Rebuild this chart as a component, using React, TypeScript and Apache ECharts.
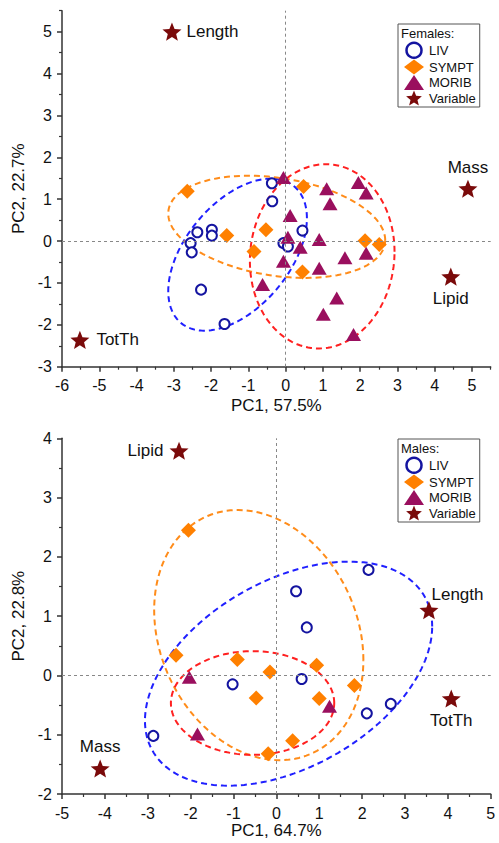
import React, { useEffect, useRef } from 'react';
import * as echarts from 'echarts';

const FONT = '"Liberation Sans", Arial, Helvetica, sans-serif';

// ---------- Top chart: Females ----------
const femTitle = 'Females:';
const femXName = 'PC1, 57.5%';
const femYName = 'PC2, 22.7%';
const femXRange = [-6, 5.5];
const femYRange = [-3, 5.5];
const femXMajor = [-6, -5, -4, -3, -2, -1, 0, 1, 2, 3, 4, 5];
const femXMinor = [-5.5, -4.5, -3.5, -2.5, -1.5, -0.5, 0.5, 1.5, 2.5, 3.5, 4.5, 5.5];
const femYMajor = [-3, -2, -1, 0, 1, 2, 3, 4, 5];
const femYMinor = [-2.5, -1.5, -0.5, 0.5, 1.5, 2.5, 3.5, 4.5, 5.5];

const femLIV = [
  [-0.37, 1.38], [-0.36, 0.95], [-2.37, 0.21], [-1.98, 0.27], [-1.98, 0.13],
  [-2.55, -0.05], [-2.52, -0.27], [-2.27, -1.16], [-1.64, -1.98], [-0.06, -0.05],
  [0.06, -0.13], [0.45, 0.25],
];
const femSYMPT = [
  [-2.64, 1.19], [-1.58, 0.13], [-0.53, 0.27], [-0.85, -0.25], [0.45, -0.74],
  [0.48, 1.3], [2.13, 0.01], [2.51, -0.08],
];
const femMORIB = [
  [-0.06, 1.52], [1.1, 1.25], [1.95, 1.4], [2.16, 1.15], [1.19, 0.89], [0.12, 0.61],
  [0.06, 0.09], [0.39, -0.15], [0.9, 0.04], [-0.06, -0.48], [0.9, -0.65], [1.59, -0.4],
  [2.16, -0.29], [-0.62, -1.04], [1.37, -1.36], [1.01, -1.75], [1.82, -2.23],
];
const femVarNames = ['Length', 'Mass', 'Lipid', 'TotTh'];
const femVarPC1 = [-3.05, 4.89, 4.43, -5.52];
const femVarPC2 = [5.0, 1.25, -0.85, -2.36];
// ellipses: centre, half-extent in x and y, correlation
const femEllCx = [-1.29, -0.24, 0.98];
const femEllCy = [-0.325, 0.34, -0.365];
const femEllHx = [1.86, 2.91, 1.94];
const femEllHy = [1.815, 1.22, 2.2];
const femEllR = [0.48, -0.26, 0.05];

// ---------- Bottom chart: Males ----------
const malTitle = 'Males:';
const malXName = 'PC1, 64.7%';
const malYName = 'PC2, 22.8%';
const malXRange = [-5, 5];
const malYRange = [-2, 4];
const malXMajor = [-5, -4, -3, -2, -1, 0, 1, 2, 3, 4, 5];
const malXMinor = [-4.5, -3.5, -2.5, -1.5, -0.5, 0.5, 1.5, 2.5, 3.5, 4.5];
const malYMajor = [-2, -1, 0, 1, 2, 3, 4];
const malYMinor = [-1.5, -0.5, 0.5, 1.5, 2.5, 3.5];

const malLIV = [
  [0.71, 0.81], [-1.02, -0.15], [0.59, -0.06], [2.11, -0.64], [2.67, -0.48],
  [-2.87, -1.02], [2.15, 1.78], [0.46, 1.42],
];
const malSYMPT = [
  [-2.34, 0.34], [-0.91, 0.27], [-0.15, 0.06], [-0.47, -0.38], [0.94, 0.17],
  [1.0, -0.39], [1.82, -0.17], [0.38, -1.1], [-0.19, -1.32], [-2.05, 2.45],
];
const malMORIB = [[-2.03, -0.03], [-1.84, -0.99], [1.24, -0.52]];
const malVarNames = ['Lipid', 'Length', 'TotTh', 'Mass'];
const malVarPC1 = [-2.27, 3.56, 4.08, -4.11];
const malVarPC2 = [3.79, 1.1, -0.39, -1.57];
const malEllCx = [0.285, -0.41, -0.555];
const malEllCy = [0.03, 0.68, -0.465];
const malEllHx = [3.35, 2.44, 1.905];
const malEllHy = [1.89, 2.11, 0.875];
const malEllR = [0.42, -0.2, 0];

const groupNames = ['LIV', 'SYMPT', 'MORIB', 'Variable'];

// ---------- styles ----------
const C_LIV = '#1414a0';
const C_SYMPT = '#ff8000';
const C_MORIB = '#9a0f5e';
const C_VAR = '#7a0a0a';
const ELL_COLORS = ['#2020ff', '#ff8c1a', '#ff2020'];
const STAR =
  'path://M50,0 L62.93,32.2 L97.55,34.55 L70.92,56.8 L79.39,90.45 L50,72 L20.61,90.45 L29.08,56.8 L2.45,34.55 L37.07,32.2 Z';

const femLabelPos: Record<string, any> = {
  Length: { position: 'right', distance: 5 },
  Mass: { position: 'top', distance: 4 },
  Lipid: { position: 'bottom', distance: 4 },
  TotTh: { position: 'right', distance: 7 },
};
const malLabelPos: Record<string, any> = {
  Lipid: { position: 'left', distance: 6 },
  Length: { position: 'right', distance: 5, offset: [-12, -16] },
  TotTh: { position: 'bottom', distance: 4 },
  Mass: { position: 'top', distance: 4 },
};

function axisPair(
  dim: 'x' | 'y',
  gridIndex: number,
  range: number[],
  major: number[],
  minor: number[],
  name: string,
  nameGap: number
) {
  const position = dim === 'x' ? 'bottom' : 'left';
  const main = {
    type: 'value',
    gridIndex,
    position,
    min: range[0],
    max: range[1],
    name,
    nameLocation: 'middle',
    nameGap,
    nameTextStyle: { fontSize: 17, color: '#111', fontFamily: FONT },
    axisLine: { show: true, onZero: false, lineStyle: { color: '#333', width: 1.5 } },
    axisTick: { show: true, length: 5, customValues: major, lineStyle: { color: '#333', width: 1.5 } },
    axisLabel: {
      show: true,
      customValues: major,
      fontSize: 16,
      color: '#111',
      fontFamily: FONT,
      margin: dim === 'x' ? 11 : 10,
    },
    splitLine: { show: false },
  };
  const min = {
    type: 'value',
    gridIndex,
    position,
    min: range[0],
    max: range[1],
    axisLine: { show: false, onZero: false },
    axisTick: { show: true, length: 3, customValues: minor, lineStyle: { color: '#333', width: 1.2 } },
    axisLabel: { show: false },
    splitLine: { show: false },
  };
  return [main, min];
}

function ellipseSeries(
  axisIndex: number,
  cx: number[],
  cy: number[],
  hx: number[],
  hy: number[],
  rr: number[]
) {
  return cx.map((_, i) => ({
    type: 'custom',
    name: groupNames[i] + '-ellipse',
    xAxisIndex: axisIndex,
    yAxisIndex: axisIndex,
    clip: false,
    silent: true,
    z: 1,
    encode: { x: 0, y: 1 },
    data: [[cx[i], cy[i], hx[i], hy[i], rr[i]]],
    renderItem: (params: any, api: any) => {
      const x0 = api.value(0);
      const y0 = api.value(1);
      const ax = api.value(2);
      const ay = api.value(3);
      const r = api.value(4);
      const s = Math.sqrt(1 - r * r);
      const pts: number[][] = [];
      const N = 160;
      for (let k = 0; k <= N; k++) {
        const t = (k / N) * Math.PI * 2;
        pts.push(api.coord([x0 + ax * Math.cos(t), y0 + ay * (r * Math.cos(t) + s * Math.sin(t))]));
      }
      return {
        type: 'polyline',
        shape: { points: pts },
        style: { stroke: ELL_COLORS[i], fill: 'none', lineWidth: 2, lineDash: [6, 4] },
      };
    },
  }));
}

function scatterSeries(
  axisIndex: number,
  liv: number[][],
  sympt: number[][],
  morib: number[][],
  varNames: string[],
  varX: number[],
  varY: number[],
  labelPos: Record<string, any>
) {
  return [
    {
      type: 'scatter',
      name: 'LIV',
      xAxisIndex: axisIndex,
      yAxisIndex: axisIndex,
      z: 3,
      symbol: 'circle',
      symbolSize: 10,
      itemStyle: { color: '#ffffff', borderColor: C_LIV, borderWidth: 2, opacity: 1 },
      data: liv,
    },
    {
      type: 'scatter',
      name: 'SYMPT',
      xAxisIndex: axisIndex,
      yAxisIndex: axisIndex,
      z: 3,
      symbol: 'diamond',
      symbolSize: 15,
      itemStyle: { color: C_SYMPT, opacity: 1 },
      data: sympt,
    },
    {
      type: 'scatter',
      name: 'MORIB',
      xAxisIndex: axisIndex,
      yAxisIndex: axisIndex,
      z: 3,
      symbol: 'triangle',
      symbolSize: [15, 13],
      itemStyle: { color: C_MORIB, opacity: 1 },
      data: morib,
    },
    {
      type: 'scatter',
      name: 'Variable',
      xAxisIndex: axisIndex,
      yAxisIndex: axisIndex,
      z: 3,
      symbol: STAR,
      symbolKeepAspect: true,
      symbolSize: 19,
      itemStyle: { color: C_VAR, opacity: 1 },
      label: {
        show: true,
        formatter: '{b}',
        fontSize: 17,
        color: '#111',
        fontFamily: FONT,
      },
      data: varNames.map((n, i) => ({
        name: n,
        value: [varX[i], varY[i]],
        label: labelPos[n],
      })),
      markLine: {
        silent: true,
        symbol: ['none', 'none'],
        label: { show: false },
        lineStyle: { color: '#888', width: 1, type: [3, 3] },
        data: [{ xAxis: 0 }, { yAxis: 0 }],
      },
    },
  ];
}

function legendFor(top: number) {
  return {
    orient: 'vertical',
    left: 398,
    top,
    padding: [17.5, 4, 1.5, 6],
    itemWidth: 20,
    itemHeight: 15,
    itemGap: 0.5,
    symbolKeepAspect: true,
    borderColor: '#555',
    borderWidth: 1,
    backgroundColor: '#fff',
    selectedMode: false,
    textStyle: { fontSize: 13, color: '#111', fontFamily: FONT },
    data: [
      { name: 'LIV', icon: 'circle', itemStyle: { borderWidth: 2.5 } },
      { name: 'SYMPT', icon: 'diamond' },
      { name: 'MORIB', icon: 'triangle' },
      { name: 'Variable', icon: STAR },
    ],
  };
}

export default function App() {
  const ref = useRef<HTMLDivElement>(null);
  useEffect(() => {
    if (!ref.current) return;
    const chart = echarts.init(ref.current, undefined, { renderer: 'svg' });
    const [fx0, fx1] = axisPair('x', 0, femXRange, femXMajor, femXMinor, femXName, 30);
    const [fy0, fy1] = axisPair('y', 0, femYRange, femYMajor, femYMinor, femYName, 23);
    const [mx0, mx1] = axisPair('x', 1, malXRange, malXMajor, malXMinor, malXName, 28);
    const [my0, my1] = axisPair('y', 1, malYRange, malYMajor, malYMinor, malYName, 23);
    const option: any = {
      animation: false,
      backgroundColor: '#ffffff',
      textStyle: { fontFamily: FONT },
      grid: [
        { left: 62, top: 10.7, width: 428.7, height: 356 },
        { left: 62, top: 438.3, width: 428.7, height: 355.7 },
      ],
      xAxis: [fx0, fx1, mx0, mx1],
      yAxis: [fy0, fy1, my0, my1],
      legend: [legendFor(24), legendFor(439)],
      graphic: [
        {
          type: 'text',
          x: 401,
          y: 33.5,
          z: 100,
          style: { text: femTitle, fontSize: 13, fill: '#111', fontFamily: FONT, verticalAlign: 'middle' },
        },
        {
          type: 'text',
          x: 401,
          y: 448.5,
          z: 100,
          style: { text: malTitle, fontSize: 13, fill: '#111', fontFamily: FONT, verticalAlign: 'middle' },
        },
      ],
      series: [
        ...ellipseSeries(0, femEllCx, femEllCy, femEllHx, femEllHy, femEllR),
        ...scatterSeries(0, femLIV, femSYMPT, femMORIB, femVarNames, femVarPC1, femVarPC2, femLabelPos),
        ...ellipseSeries(2, malEllCx, malEllCy, malEllHx, malEllHy, malEllR),
        ...scatterSeries(2, malLIV, malSYMPT, malMORIB, malVarNames, malVarPC1, malVarPC2, malLabelPos),
      ],
    };
    chart.setOption(option);
    return () => chart.dispose();
  }, []);
  return (
    <div
      ref={ref}
      style={{ position: 'fixed', left: 0, top: 0, width: 499, height: 843, background: '#fff' }}
    />
  );
}
